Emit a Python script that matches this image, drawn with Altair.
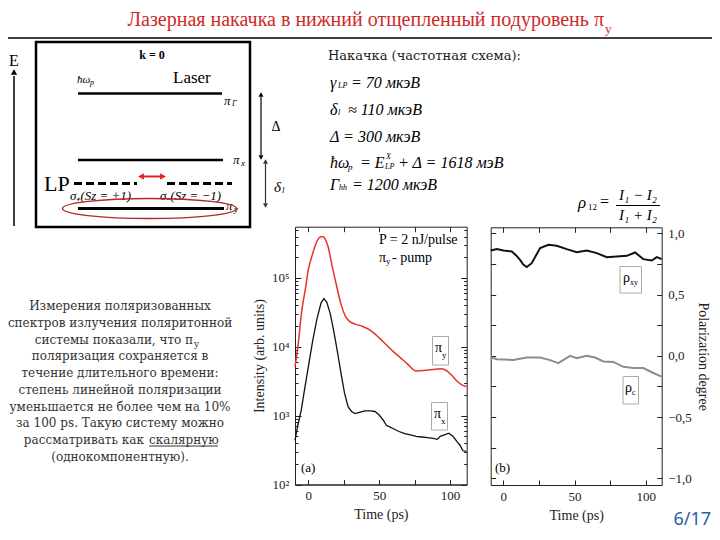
import altair as alt
import pandas as pd

W, H = 704, 524
M = 8
SERIF = "Liberation Serif"
CAMB = "DejaVu Serif"

# ---------------- data ----------------
# (a) PL intensity, pi_y polarisation (red)
time_piy = [-9.4, -7.5, -4.6, -2, 0, 3, 6, 9, 10.5, 12, 14, 17, 20, 23, 26, 29, 33, 38, 43,
            50, 55, 60, 65, 70, 76, 83, 88, 93, 97, 101, 105, 108, 111.5]
int_piy = [5130, 9550, 33900, 70800, 131800, 223900, 338800, 398100, 398100, 363100, 281800,
           141300, 75900, 41700, 28200, 23400, 21400, 19950, 17800, 13500, 10700, 8510, 6920,
           5620, 4470, 4570, 4680, 4790, 4570, 3890, 3160, 2820, 2630]
# (a) pi_x polarisation (black)
time_pix = [-9.4, -7.5, -5, -2.5, 0, 3, 6, 9, 11, 13, 15.5, 18, 20.5, 23, 25.5, 28, 30.5, 33, 36,
            40, 44, 47, 50, 53, 55, 57, 60, 64, 68, 72, 76, 80, 84, 88, 91, 93, 96, 99, 102,
            105, 107, 109, 111.5]
int_pix = [437, 708, 1202, 2512, 5130, 12020, 25120, 43650, 50120, 44670, 30200, 16600, 8510,
           4170, 2140, 1350, 1150, 1070, 1120, 1175, 1175, 1150, 1023, 851, 724, 692, 646, 589,
           550, 525, 501, 490, 479, 468, 452, 501, 525, 556, 501, 417, 372, 309, 302]
# (b) polarisation degree
time_rxy = [-8.9, -4.6, 0, 5.9, 9, 11.7, 14, 16.4, 19.9, 25.8, 31.6, 37.5, 44.5, 51.5, 58.6,
            65.6, 72.6, 79.6, 86.7, 92.5, 98.3, 104.2, 107.7, 111.2]
rho_xy = [0.86, 0.872, 0.86, 0.852, 0.82, 0.784, 0.745, 0.725, 0.757, 0.88, 0.907, 0.899, 0.872,
          0.847, 0.86, 0.839, 0.806, 0.811, 0.817, 0.844, 0.79, 0.779, 0.806, 0.79]
time_rc = [-8.9, -4.6, 7, 16.4, 25.8, 32.8, 38.6, 46.8, 51.5, 58.6, 64.4, 70.2, 77.2, 84.3,
           91.3, 98.3, 105.3, 111.2]
rho_c = [-0.011, -0.027, -0.033, -0.014, -0.014, -0.035, -0.06, 0.0, -0.02, 0.0, -0.014, -0.046,
         -0.05, -0.09, -0.1, -0.1, -0.14, -0.17]

log_ticks = [100, 1000, 10000, 100000]
log_minor = [m * 10 ** e for e in (2, 3, 4, 5) for m in range(2, 10) if m * 10 ** e < 556000]
pol_ticks = [-1.0, -0.5, 0.0, 0.5, 1.0]
pol_minor = [-1.0, -0.75, -0.5, -0.25, 0.0, 0.25, 0.5, 0.75, 1.0]
time_ticks = [0, 50, 100]
time_minor = [0, 25, 50, 75, 100]

df_a = pd.concat([
    pd.DataFrame({"t": time_piy, "v": int_piy, "s": "πy"}),
    pd.DataFrame({"t": time_pix, "v": int_pix, "s": "πx"}),
])
df_b = pd.concat([
    pd.DataFrame({"t": time_rxy, "v": rho_xy, "s": "ρxy"}),
    pd.DataFrame({"t": time_rc, "v": rho_c, "s": "ρc"}),
])

# ---------------- panel geometry (chart pixel coords) ----------------
AX0, AX1, AY0, AY1 = 287, 458.7, 476.5, 218.7
BX0, BX1, BY0, BY1 = 482.7, 653.7, 477, 219.3

xs_a = alt.Scale(domain=[-9.4, 111.7], range=[AX0, AX1], nice=False, zero=False)
ys_a = alt.Scale(type="log", domain=[100, 556000], range=[AY0, AY1], nice=False)
xs_b = alt.Scale(domain=[-8.9, 111.2], range=[BX0, BX1], nice=False, zero=False)
ys_b = alt.Scale(domain=[-1.055, 1.05], range=[BY0, BY1], nice=False, zero=False)

LAB = dict(labelFont=SERIF, labelFontSize=13, labelColor="#222", grid=False)
TIT = dict(titleFont=SERIF, titleFontSize=14, titleFontWeight="normal", titleColor="#222")
DOM = dict(domainColor="#222", domainWidth=1)
TK = dict(tickColor="#222", tickWidth=1, labels=False, grid=False, domain=False)


def tick_axis(orient, offset, values, size):
    return alt.Axis(orient=orient, offset=offset, values=values, tickSize=size, title=None, **TK)


def line(df, series, color, width, xs, ys, xaxis, yaxis, interp="linear"):
    return alt.Chart(df).transform_filter(alt.datum.s == series).mark_line(
        strokeWidth=width, color=color, interpolate=interp).encode(
        x=alt.X("t:Q", scale=xs, axis=xaxis), y=alt.Y("v:Q", scale=ys, axis=yaxis))


def ghost(df, xs, ys, xaxis, yaxis):
    return alt.Chart(df).mark_point(opacity=0).encode(
        x=alt.X("t:Q", scale=xs, axis=xaxis), y=alt.Y("v:Q", scale=ys, axis=yaxis))


# ----- panel (a)
ax_a_x = alt.Axis(orient="bottom", offset=AY0 - H, values=time_ticks, ticks=False, labelPadding=5,
                  title="Time (ps)", titlePadding=5, **LAB, **TIT, **DOM)
ax_a_y = alt.Axis(orient="left", offset=-AX0, values=log_ticks, ticks=False, labelPadding=6,
                  labelExpr="datum.value == 100 ? '10²' : datum.value == 1000 ? '10³' : datum.value == 10000 ? '10⁴' : '10⁵'",
                  title="Intensity (arb. units)", titlePadding=5, **LAB, **TIT, **DOM)
a1 = alt.layer(
    line(df_a, "πy", "#e5332a", 1.5, xs_a, ys_a, ax_a_x, ax_a_y, "monotone"),
    line(df_a, "πx", "#111111", 1.3, xs_a, ys_a, ax_a_x, ax_a_y),
)
a2 = ghost(df_a, xs_a, ys_a,
           alt.Axis(orient="top", offset=-AY0, values=time_minor, tickSize=5, title=None, tickColor="#222", labels=False, grid=False, **DOM),
           alt.Axis(orient="right", offset=AX0 - W, values=log_ticks, tickSize=6, title=None, **TK))
a3 = ghost(df_a, xs_a, ys_a,
           alt.Axis(orient="bottom", offset=AY1 - H, values=time_minor, tickSize=5, title=None, tickColor="#222", labels=False, grid=False, **DOM),
           alt.Axis(orient="left", offset=-AX1, values=log_ticks, tickSize=6, title=None, tickColor="#222", labels=False, grid=False, **DOM))
a4 = ghost(df_a, xs_a, ys_a, None, tick_axis("right", AX0 - W, log_minor, 3))
a5 = ghost(df_a, xs_a, ys_a, None, tick_axis("left", -AX1, log_minor, 3))

# ----- panel (b)
ax_b_x = alt.Axis(orient="bottom", offset=BY0 - H, values=time_ticks, ticks=False, labelPadding=5,
                  title="Time (ps)", titlePadding=5, **LAB, **TIT, **DOM)
ax_b_y = alt.Axis(orient="right", offset=BX1 - W, values=pol_ticks, ticks=False, labelPadding=6,
                  labelExpr="replace(format(datum.value, '.1f'), '.', ',')",
                  title="Polarization degree", titlePadding=4, **LAB, **TIT, **DOM)
b1 = alt.layer(
    line(df_b, "ρxy", "#111111", 2, xs_b, ys_b, ax_b_x, ax_b_y),
    line(df_b, "ρc", "#8c8c8c", 2, xs_b, ys_b, ax_b_x, ax_b_y),
)
b2 = ghost(df_b, xs_b, ys_b,
           alt.Axis(orient="top", offset=-BY0, values=time_minor, tickSize=5, title=None, tickColor="#222", labels=False, grid=False, **DOM),
           alt.Axis(orient="right", offset=BX0 - W, values=pol_minor, tickSize=5, title=None, tickColor="#222", labels=False, grid=False, **DOM))
b3 = ghost(df_b, xs_b, ys_b,
           alt.Axis(orient="bottom", offset=BY1 - H, values=time_minor, tickSize=5, title=None, tickColor="#222", labels=False, grid=False, **DOM),
           alt.Axis(orient="left", offset=-BX1, values=pol_minor, tickSize=5, title=None, **TK))

# ---------------- annotations (page pixel coords) ----------------
ONE = pd.DataFrame({"k": [0]})


def T(x, y, s, size=13, color="#000", font=SERIF, align="left", baseline="middle",
      style="normal", weight="normal", angle=0):
    return alt.Chart(ONE).mark_text(text=s, font=font, fontSize=size, color=color, align=align,
                                    baseline=baseline, fontStyle=style, fontWeight=weight,
                                    angle=angle).encode(x=alt.value(x - M), y=alt.value(y - M))


def R(x1, y1, x2, y2, color="#000", width=1.0, dash=None):
    kw = dict(color=color, strokeWidth=width)
    if dash:
        kw["strokeDash"] = dash
    return alt.Chart(ONE).mark_rule(**kw).encode(
        x=alt.value(x1 - M), y=alt.value(y1 - M), x2=alt.value(x2 - M), y2=alt.value(y2 - M))


def P(x, y, shape, size=30, color="#000"):
    return alt.Chart(ONE).mark_point(shape=shape, size=size, filled=True, color=color, opacity=1).encode(
        x=alt.value(x - M), y=alt.value(y - M))


def BOX(x1, y1, x2, y2, stroke="#000", width=1.0, fill="white", fill_op=1.0):
    return alt.Chart(ONE).mark_rect(fill=fill, fillOpacity=fill_op, stroke=stroke, strokeWidth=width).encode(
        x=alt.value(x1 - M), y=alt.value(y1 - M), x2=alt.value(x2 - M), y2=alt.value(y2 - M))


ann = []
# title
ann += [T(604, 20, "Лазерная накачка в нижний отщепленный подуровень π", size=20, color="#cc2a2a",
          font="Liberation Sans Narrow", align="right"),
        T(605, 28.5, "y", size=13, color="#cc2a2a", font="Liberation Sans Narrow"),
        R(0, 38, 720, 38, width=1.6)]

# energy diagram
ann += [BOX(36, 42, 250, 227, width=2.5, fill_op=0),
        T(152, 55, "k = 0", size=12, weight="bold", align="center"),
        T(77, 80, "ħω", size=11, style="italic"),
        T(90, 83, "p", size=8, style="italic"),
        T(173, 78, "Laser", size=17),
        R(78, 93.5, 222, 93.5, width=2.5),
        T(224, 101, "π", size=13, style="italic"),
        T(232, 104, "Γ", size=8, style="italic"),
        R(78, 160, 223, 160, width=2.5),
        T(233, 160, "π", size=13, style="italic"),
        T(241, 163, "x", size=9, style="italic"),
        R(74, 183.5, 137, 183.5, width=3, dash=[8, 4]),
        R(167, 183.5, 232, 183.5, width=3, dash=[8, 4]),
        T(44, 184, "LP", size=22),
        R(143, 176.5, 161, 176.5, color="#e02020", width=2),
        P(141, 176.5, "triangle-left", 45, "#e02020"),
        P(163, 176.5, "triangle-right", 45, "#e02020"),
        T(70, 196, "σ₊(Sz = +1)", size=13, style="italic"),
        T(160, 196, "σ₋(Sz = −1)", size=13, style="italic"),
        R(78, 208.5, 224, 208.5, width=3),
        T(226, 206, "π", size=13, style="italic"),
        T(234, 209, "y", size=9, style="italic"),
        alt.Chart(ONE).mark_point(shape="M-1,0A1,0.115,0,1,0,1,0A1,0.115,0,1,0,-1,0Z",
                                  size=30276, filled=False, color="#b5272d", strokeWidth=1.4,
                                  opacity=1).encode(x=alt.value(149.5 - M), y=alt.value(208.5 - M)),
        # energy axis
        R(14, 226, 14, 76, width=1.5),
        P(14, 72, "triangle-up", 40),
        T(9, 61, "E", size=16, align="left"),
        # delta arrows
        R(261, 97, 261, 155, width=1.2),
        P(261, 94.5, "triangle-up", 25), P(261, 157.5, "triangle-down", 25),
        T(276, 127, "Δ", size=14, align="center"),
        R(265.5, 164, 265.5, 203, width=1.2, color="#333"),
        P(265.5, 161.5, "triangle-up", 25, "#333"), P(265.5, 205.5, "triangle-down", 25, "#333"),
        T(274, 187, "δ", size=15, style="italic"),
        T(282, 190, "l", size=9, style="italic")]

# pumping parameters
ann += [T(328, 56, "Накачка (частотная схема):", size=13, font=CAMB, color="#222"),
        T(330, 83, "γ", size=16, style="italic"), T(338, 86, "LP", size=8, style="italic"),
        T(351, 83, "= 70 мкэВ", size=16, style="italic"),
        T(330, 110, "δ", size=16, style="italic"), T(338, 113, "l", size=8, style="italic"),
        T(348, 110, "≈ 110 мкэВ", size=16, style="italic"),
        T(330, 136.5, "Δ = 300 мкэВ", size=16, style="italic"),
        T(330, 163, "ħω", size=16, style="italic"), T(348, 167, "p", size=9, style="italic"),
        T(360, 163, "= E", size=16, style="italic"),
        T(386, 157, "X", size=8, style="italic"), T(385, 167, "LP", size=8, style="italic"),
        T(398, 163, "+ Δ = 1618 мэВ", size=16, style="italic"),
        T(330, 185, "Γ", size=16, style="italic"), T(339, 188, "hh", size=8, style="italic"),
        T(352, 185, "= 1200 мкэВ", size=16, style="italic"),
        # rho formula
        T(578, 203, "ρ", size=17, style="italic"), T(588, 207, "12", size=9),
        T(600, 202, "=", size=16),
        R(616, 205.5, 660, 205.5, width=1),
        T(638, 195, "I₁ − I₂", size=15, style="italic", align="center"),
        T(638, 215, "I₁ + I₂", size=15, style="italic", align="center")]

# text block
lines = ["Измерения поляризованных",
         "спектров излучения поляритонной",
         None,
         "поляризация сохраняется в",
         "течение длительного времени:",
         "степень линейной поляризации",
         "уменьшается не более чем на 10%",
         "за 100 ps. Такую систему можно",
         None,
         "(однокомпонентную)."]
TB = dict(size=12, font=CAMB, color="#333")
for i, s in enumerate(lines):
    yy = 306 + i * 16.75
    if s:
        ann.append(T(120, yy, s, align="center", **TB))
ann += [T(193, 306 + 2 * 16.75, "системы показали, что π", align="right", **TB),
        T(194, 306 + 2 * 16.75 + 4, "y", size=9, font=CAMB, color="#333"),
        T(144, 306 + 8 * 16.75, "рассматривать как", align="right", **TB),
        T(149, 306 + 8 * 16.75, "скалярную", align="left", **TB),
        R(149, 446, 218, 446, color="#333", width=1)]

# plot annotations
ann += [T(379, 240, "P = 2 nJ/pulse", size=14),
        T(379, 258, "π", size=14), T(386, 261, "y", size=9), T(392, 258, "- pump", size=14),
        T(301, 468, "(a)", size=13),
        T(495, 468, "(b)", size=13),
        BOX(432.5, 336.5, 448.5, 365, stroke="#aaa"),
        T(435, 348, "π", size=14), T(442, 355, "y", size=9),
        BOX(431.5, 402.5, 447.5, 430, stroke="#aaa"),
        T(434, 414, "π", size=14), T(441, 421, "x", size=9),
        BOX(620, 266.5, 641.5, 293, stroke="#aaa"),
        T(623, 278, "ρ", size=14), T(630, 283, "xy", size=8),
        BOX(623, 376.5, 638.5, 404, stroke="#aaa"),
        T(625, 388, "ρ", size=14), T(632, 393, "c", size=8),
        T(711, 520, "6/17", size=18, font="Noto Sans", color="#2a5ca8", align="right")]

chart = alt.layer(a1, a2, a3, a4, a5, b1, b2, b3, *ann).resolve_scale(
    x="independent", y="independent").resolve_axis(x="independent", y="independent").properties(
    width=W, height=H, padding=0, autosize=alt.AutoSizeParams(type="none"),
    background="white").configure_view(strokeWidth=0)

chart.save("out.html", embed_options={"renderer": "svg", "actions": False})
